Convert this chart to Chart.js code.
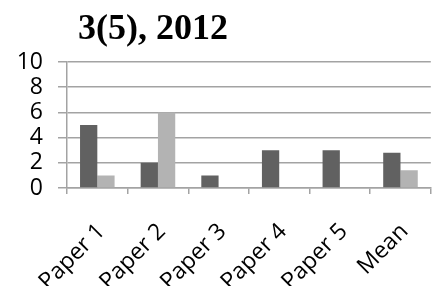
<!DOCTYPE html>
<html>
<head>
<meta charset="utf-8">
<script src="https://cdn.jsdelivr.net/npm/chart.js@4/dist/chart.umd.min.js"></script>
<style>
  html, body { margin: 0; padding: 0; background: #fff; overflow: hidden; }
  #wrap { width: 441px; height: 286px; overflow: hidden; }
</style>
</head>
<body>
<div id="wrap"><canvas id="chart" width="444" height="286"></canvas></div>
<script>
// ── Données ────────────────────────────────────────────────────
const TITLE = '3(5), 2012';
const categories = ['Paper 1', 'Paper 2', 'Paper 3', 'Paper 4', 'Paper 5', 'Mean'];
const seriesDark  = [5, 2, 1, 3, 3, 2.8];
const seriesLight = [1, 6, 0, 0, 0, 1.4];
const yMin = 0, yMax = 10, yStep = 2;

const GRID = '#a3a3a3';
const TICK_FONT = { family: '"Open Sans", sans-serif', size: 23 };

// ── Titre dessiné à la main (décalé à gauche comme l'original) ─
const titlePlugin = {
  id: 'leftTitle',
  afterDraw(chart) {
    const ctx = chart.ctx;
    ctx.save();
    ctx.font = 'bold 36px "Liberation Serif", "Times New Roman", serif';
    ctx.fillStyle = '#000';
    ctx.textAlign = 'center';
    ctx.textBaseline = 'alphabetic';
    ctx.fillText(TITLE, 153, 39);
    ctx.restore();
  },
};

// ── Graphique ──────────────────────────────────────────────────
new Chart(document.getElementById('chart').getContext('2d'), {
  type: 'bar',
  data: {
    labels: categories,
    datasets: [
      { data: seriesDark,  backgroundColor: '#616161', categoryPercentage: 0.57, barPercentage: 1 },
      { data: seriesLight, backgroundColor: '#b3b3b3', categoryPercentage: 0.57, barPercentage: 1 },
    ],
  },
  options: {
    responsive: false,
    animation: false,
    layout: { padding: { top: 62, left: 0, right: 0, bottom: 0 } },
    plugins: {
      legend: { display: false },
      tooltip: { enabled: false },
      title: { display: false },
    },
    scales: {
      x: {
        afterFit(scale) { scale.height = 98; },
        border: { color: GRID, width: 1.5 },
        grid: { drawOnChartArea: false, drawTicks: true, tickLength: 6, color: GRID, lineWidth: 1.5 },
        ticks: {
          color: '#000',
          font: TICK_FONT,
          maxRotation: 45,
          minRotation: 45,
          padding: 24,
          labelOffset: 4,
          autoSkip: false,
        },
      },
      y: {
        min: yMin,
        max: yMax,
        afterFit(scale) { scale.width = 67; },
        border: { color: GRID, width: 1.5 },
        grid: { color: GRID, lineWidth: 1.5, tickLength: 9 },
        ticks: { color: '#000', font: TICK_FONT, padding: 15, stepSize: yStep, autoSkip: false },
      },
    },
  },
  plugins: [titlePlugin],
});
</script>
</body>
</html>
